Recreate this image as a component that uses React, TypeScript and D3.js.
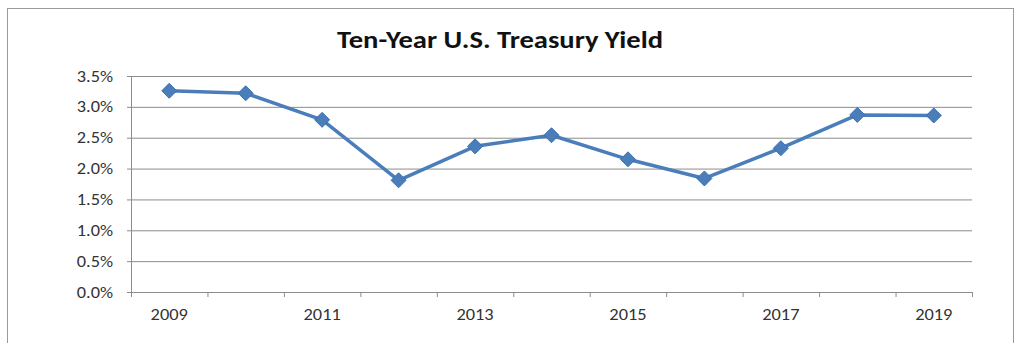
import React from "react";
import * as d3 from "d3";

const years = ["2009", "2010", "2011", "2012", "2013", "2014", "2015", "2016", "2017", "2018", "2019"];
const yields = [3.26, 3.22, 2.79, 1.81, 2.36, 2.54, 2.15, 1.84, 2.33, 2.87, 2.86];
const yTicks = [0, 0.5, 1.0, 1.5, 2.0, 2.5, 3.0, 3.5];
const xLabelYears = ["2009", "2011", "2013", "2015", "2017", "2019"];
const title = "Ten-Year U.S. Treasury Yield";

export default function App() {
  const W = 1021, H = 343;
  const left = 131, right = 972, top = 76, bottom = 292;
  const x = d3.scaleBand().domain(years).range([left, right]).padding(0);
  const y = d3.scaleLinear().domain([0, 3.5]).range([bottom, top]);
  const cx = (i: number) => (x(years[i]) as number) + x.bandwidth() / 2;
  const line = d3.line<number>()
    .x((_, i) => cx(i))
    .y((d) => y(d));
  const r = 7.5;
  const diamond = `M0,${-r}L${r},0L0,${r}L${-r},0Z`;
  const boundaries = years.map((yr) => x(yr) as number).concat([right]);
  const font = "Carlito, 'Open Sans', 'Liberation Sans', sans-serif";
  return (
    <svg width={W} height={H} style={{ position: "absolute", left: 0, top: 0 }}>
      <rect x={0} y={0} width={W} height={H} fill="#fff" />
      <rect x={7.5} y={8.5} width={1006} height={345} fill="#fff" stroke="#9a9a9a" strokeWidth={1} />
      <text transform={`translate(500,47.5) scale(1.19,1)`} textAnchor="middle" fontFamily={font} fontWeight="bold" fontSize={24} fill="#111">
        {title}
      </text>
      {yTicks.map((t) => (
        <g key={t}>
          <line x1={left - 4} x2={right} y1={y(t) + 0.5} y2={y(t) + 0.5} stroke="#8c8c8c" strokeWidth={1} />
          <text transform={`translate(113,${y(t) + 5.5}) scale(1.18,1)`} textAnchor="end" fontFamily={font} fontSize={15.5} fill="#333">
            {t.toFixed(1) + "%"}
          </text>
        </g>
      ))}
      <line x1={left + 0.5} x2={left + 0.5} y1={top} y2={bottom + 5} stroke="#8c8c8c" strokeWidth={1} />
      {boundaries.map((b, i) => (
        <line key={i} x1={b + 0.5} x2={b + 0.5} y1={bottom} y2={bottom + 5} stroke="#8c8c8c" strokeWidth={1} />
      ))}
      {years.map((yr, i) => xLabelYears.includes(yr) ? (
        <text key={yr} transform={`translate(${cx(i)},320) scale(1.15,1)`} textAnchor="middle" fontFamily={font} fontSize={16} fill="#333">
          {yr}
        </text>
      ) : null)}
      <path d={line(yields) || ""} fill="none" stroke="#4a7ebb" strokeWidth={3.5} strokeLinejoin="round" />
      {yields.map((v, i) => (
        <path key={i} d={diamond} transform={`translate(${cx(i)},${y(v)})`} fill="#4a7ebb" stroke="#3d6fae" strokeWidth={1} />
      ))}
    </svg>
  );
}
